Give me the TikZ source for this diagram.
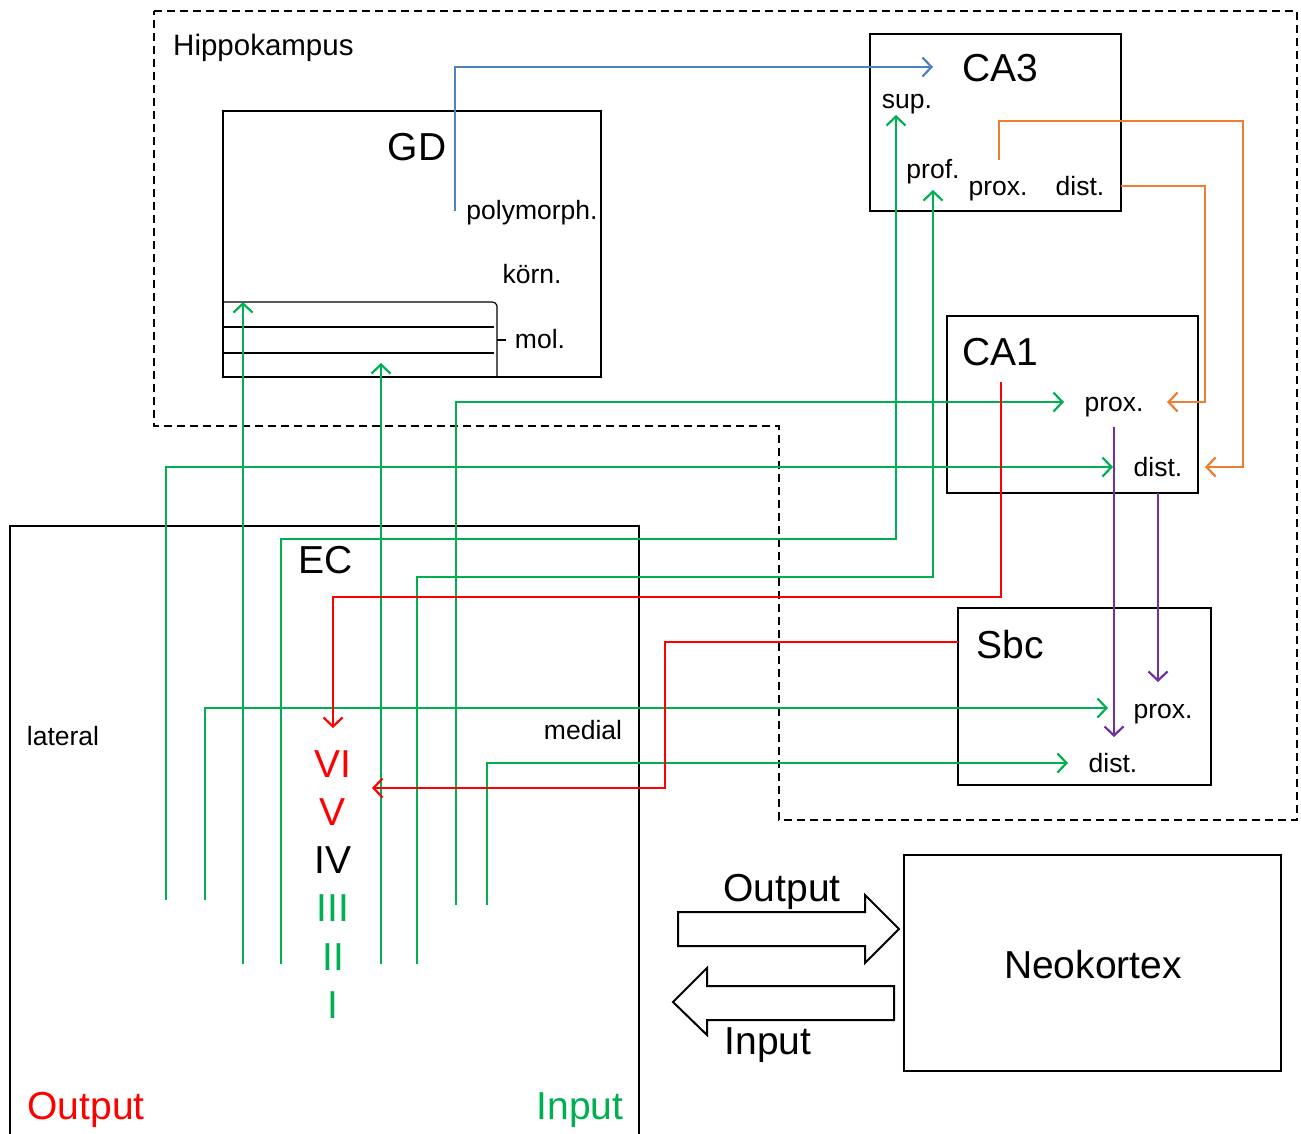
\documentclass[tikz,border=0pt]{standalone}
\usepackage{fontspec}
\setmainfont{Liberation Sans}
\usetikzlibrary{arrows.meta}
\definecolor{cgreen}{RGB}{0,176,80}
\definecolor{cred}{RGB}{255,0,0}
\definecolor{cblue}{RGB}{79,129,189}
\definecolor{corange}{RGB}{237,125,49}
\definecolor{cpurple}{RGB}{112,48,160}
\begin{document}
\begin{tikzpicture}[x=1pt,y=-1pt,
  box/.style={draw=black, line width=2.2pt, inner sep=0pt, outer sep=0pt, anchor=north west, fill=none},
  biglbl/.style={inner sep=0pt, anchor=base, font=\fontsize{39}{44}\selectfont},
  smalllbl/.style={inner sep=0pt, anchor=base, font=\fontsize{26.5}{30}\selectfont},
  conn/.style={line width=2.4pt, -{Straight Barb[length=9pt,width=19pt,line width=2.2pt]}},
  hippo/.style={line width=2pt, dash pattern=on 8pt off 5pt}
]
\useasboundingbox (0,0) rectangle (1301,1133);
\fill[white] (0,0) rectangle (1301,1133);
\clip (0,0) rectangle (1301,1133);

% Hippocampus region
\draw[hippo] (154,11) -- (1297,11) -- (1297,820) -- (779,820) -- (779,426) -- (154,426) -- cycle;
\node[inner sep=0pt, anchor=base west, font=\fontsize{29.5}{34}\selectfont] (hippolbl) at (173,55) {Hippokampus};

% Boxes
\node[box, minimum width=378pt, minimum height=266pt] (GD) at (223,111) {};
\node[box, minimum width=251pt, minimum height=177pt] (CA3) at (870,34) {};
\node[box, minimum width=251pt, minimum height=177pt] (CA1) at (947,316) {};
\node[box, minimum width=253pt, minimum height=177pt] (Sbc) at (958,608) {};
\node[box, minimum width=629pt, minimum height=640pt] (EC) at (10,526) {};
\node[box, minimum width=377pt, minimum height=216pt] (Neo) at (904,855) {};

% GD molecular layers
\draw[line width=1.2pt] (223,302) -- (492,302) to[out=0,in=90] (497,306) -- (497,377);
\draw[line width=1.2pt] (223,327) -- (494,327);
\draw[line width=1.2pt] (223,353) -- (494,353);
\draw[line width=1.2pt] (497,340) -- (506,340);

% Labels
\node[biglbl] (GDlbl) at (417,160) {GD};
\node[smalllbl] (polylbl) at (532,219) {polymorph.};
\node[smalllbl] (kornlbl) at (532,283) {körn.};
\node[smalllbl] (mollbl) at (540,348) {mol.};

\node[biglbl] (CA3lbl) at (1000,81) {CA3};
\node[smalllbl] (suplbl) at (907,108) {sup.};
\node[smalllbl] (proflbl) at (933,178) {prof.};
\node[smalllbl] (ca3prox) at (998,195) {prox.};
\node[smalllbl] (ca3dist) at (1080,195) {dist.};

\node[biglbl] (CA1lbl) at (1000,365) {CA1};
\node[smalllbl] (ca1prox) at (1114,411) {prox.};
\node[smalllbl] (ca1dist) at (1158,476) {dist.};

\node[biglbl] (Sbclbl) at (1010,658) {Sbc};
\node[smalllbl] (sbcprox) at (1163,718) {prox.};
\node[smalllbl] (sbcdist) at (1113,772) {dist.};

\node[biglbl] (EClbl) at (326,573) {EC};
\node[smalllbl] (latlbl) at (63,745) {lateral};
\node[smalllbl] (medlbl) at (583,739) {medial};
\node[biglbl, text=cred] (VI) at (333,777) {VI};
\node[biglbl, text=cred] (V) at (333,825) {V};
\node[biglbl] (IV) at (333,873) {IV};
\node[biglbl, text=cgreen] (III) at (333,921) {III};
\node[biglbl, text=cgreen] (II) at (333,970) {II};
\node[biglbl, text=cgreen] (I) at (333,1018) {I};
\node[biglbl, text=cred] (outEC) at (86,1119) {Output};
\node[biglbl, text=cgreen] (inEC) at (580,1119) {Input};

\node[biglbl] (Neolbl) at (1093,978) {Neokortex};
\node[biglbl] (outlbl) at (782,901) {Output};
\node[biglbl] (inlbl) at (768,1054) {Input};

% Block arrows
\draw[line width=2pt, line join=miter] (678,912) -- (865,912) -- (865,895) -- (899,929) -- (865,963) -- (865,946) -- (678,946) -- cycle;
\draw[line width=2pt, line join=miter] (894,986) -- (707,986) -- (707,968) -- (673,1002) -- (707,1035) -- (707,1020) -- (894,1020) -- cycle;

% Coordinates
\coordinate (gA) at (166,900);
\coordinate (gB) at (205,900);
\coordinate (gC) at (243,964);
\coordinate (gD) at (281,964);
\coordinate (gE) at (381,964);
\coordinate (gF) at (417,964);
\coordinate (gG) at (456,905);
\coordinate (gH) at (487,905);
\coordinate (ca1distIn) at (1113,467);
\coordinate (sbcproxIn) at (1108,708);
\coordinate (molTop) at (243,302);
\coordinate (supCorner) at (896,539);
\coordinate (supIn) at (896,115);
\coordinate (molIn) at (381,363);
\coordinate (profCorner) at (933,577);
\coordinate (profIn) at (933,190);
\coordinate (ca1proxIn) at (1064,402);
\coordinate (sbcdistIn) at (1068,763);

% Green (EC inputs)
\draw[conn, cgreen] (gA) |- (ca1distIn);
\draw[conn, cgreen] (gB) |- (sbcproxIn);
\draw[conn, cgreen] (gC) -- (molTop);
\draw[conn, cgreen] (gD) |- (supCorner) -- (supIn);
\draw[conn, cgreen] (gE) -- (molIn);
\draw[conn, cgreen] (gF) |- (profCorner) -- (profIn);
\draw[conn, cgreen] (gG) |- (ca1proxIn);
\draw[conn, cgreen] (gH) |- (sbcdistIn);

% Blue
\coordinate (bS) at (455,211);
\coordinate (bE) at (933,67);
\draw[conn, cblue] (bS) |- (bE);

% Orange
\coordinate (oS1) at (999,160);
\coordinate (oC1) at (1243,121);
\coordinate (oE1) at (1205,467);
\draw[conn, corange] (oS1) |- (oC1) |- (oE1);
\coordinate (oS2) at (1121,186);
\coordinate (oC2) at (1205,402);
\coordinate (oE2) at (1167,402);
\draw[conn, corange] (oS2) -| (oC2) -- (oE2);

% Purple
\coordinate (pS1) at (1114,427);
\coordinate (pE1) at (1114,737);
\coordinate (pS2) at (1158,493);
\coordinate (pE2) at (1158,682);
\draw[conn, cpurple] (pS1) -- (pE1);
\draw[conn, cpurple] (pS2) -- (pE2);

% Red
\coordinate (rS1) at (1001,382);
\coordinate (rC1) at (333,597);
\coordinate (rE1) at (333,728);
\draw[conn, cred] (rS1) |- (rC1) -- (rE1);
\coordinate (rS2) at (958,642);
\coordinate (rC2) at (665,788);
\coordinate (rE2) at (372,788);
\draw[conn, cred] (rS2) -| (rC2) -- (rE2);
\end{tikzpicture}
\end{document}
